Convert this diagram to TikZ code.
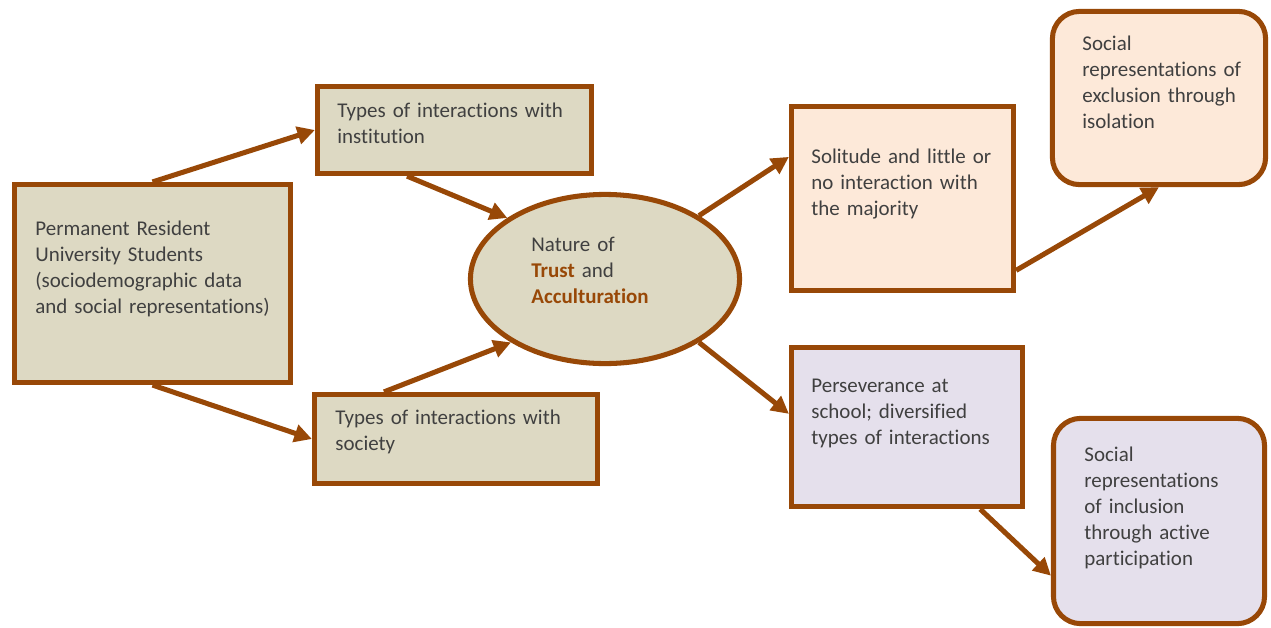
\documentclass[tikz,border=0pt]{standalone}
\usepackage{fontspec}
\setmainfont{Carlito}[Ligatures=NoCommon]
\usepackage{tikz}
\usetikzlibrary{shapes.geometric}
\usetikzlibrary{arrows.meta}
\usetikzlibrary{calc}

\definecolor{brn}{HTML}{984807}
\definecolor{beige}{HTML}{DDD9C3}
\definecolor{peach}{HTML}{FDE9D9}
\definecolor{lilac}{HTML}{E5E0EC}
\definecolor{txtgray}{HTML}{404040}

\begin{document}
\begin{tikzpicture}
		[x=0.515pt, y=-0.515pt,
		box/.style={rectangle, draw=brn, line width=2.6pt},
		rbox/.style={box, rounded corners=14pt},
		txt/.style={anchor=base west, inner sep=0pt, text width=150pt, align=left,
			text=txtgray, font=\fontsize{10.8}{13.4}\selectfont},
		arr/.style={draw=brn, line width=2.6pt, -{Triangle[length=9pt,width=9pt]}}]
		\useasboundingbox (0,0) rectangle (1271,627);
		% boxes
		\node[box, fill=beige, minimum width=142.2pt, minimum height=102pt] (perm) at (152.5,283.5) {};
		\node[box, fill=beige, minimum width=141.2pt, minimum height=44.9pt] (inst) at (454.5,130) {};
		\node[box, fill=beige, minimum width=145.8pt, minimum height=45.9pt] (soc) at (456,439) {};
		\node[ellipse, draw=brn, line width=2.6pt, fill=beige, minimum width=138.6pt, minimum height=87.1pt] (nat) at (605,279) {};
		\node[box, fill=peach, minimum width=114.4pt, minimum height=94.8pt] (sol) at (902.5,198.5) {};
		\node[rbox, fill=peach, minimum width=109.8pt, minimum height=89.2pt] (excl) at (1159,98) {};
		\node[box, fill=lilac, minimum width=119pt, minimum height=82pt] (pers) at (907,427) {};
		\node[rbox, fill=lilac, minimum width=108.7pt, minimum height=105.7pt] (incl) at (1159,521) {};
		% texts
		\node[txt] (perm-t) at (35,235) {Permanent Resident\\University Students\\(sociodemographic data\\and social representations)};
		\node[txt] (inst-t) at (337,117) {Types of interactions with\\institution};
		\node[txt] (soc-t) at (335,424) {Types of interactions with\\society};
		\node[txt] (nat-t) at (531,251) {Nature of\\\textbf{\color{brn}Trust} and\\\textbf{\color{brn}Acculturation}};
		\node[txt] (sol-t) at (811,163) {Solitude and little or\\no interaction with\\the majority};
		\node[txt] (excl-t) at (1082,50) {Social\\representations of\\exclusion through\\isolation};
		\node[txt] (pers-t) at (811,392) {Perseverance at\\school; diversified\\types of interactions};
		\node[txt] (incl-t) at (1084,461) {Social\\representations\\of inclusion\\through active\\participation};
		% arrows
		\draw[arr] (perm.north) -- (inst.west);
		\draw[arr] (perm.south) -- (soc.west);
		\draw[arr] ($(inst.south west)!0.33!(inst.south east)$) -- (nat.148);
		\draw[arr] ($(soc.north west)!0.25!(soc.north east)$) -- (nat.214);
		\draw[arr] (nat.34) -- ($(sol.north west)!0.28!(sol.south west)$);
		\draw[arr] (nat.326) -- ($(pers.north west)!0.42!(pers.south west)$);
		\draw[arr] ($(sol.north east)!0.88!(sol.south east)$) -- (excl.south);
		\draw[arr] ($(pers.south west)!0.81!(pers.south east)$) -- ($(incl.north west)!0.76!(incl.south west)$);
	\end{tikzpicture}
\end{document}
